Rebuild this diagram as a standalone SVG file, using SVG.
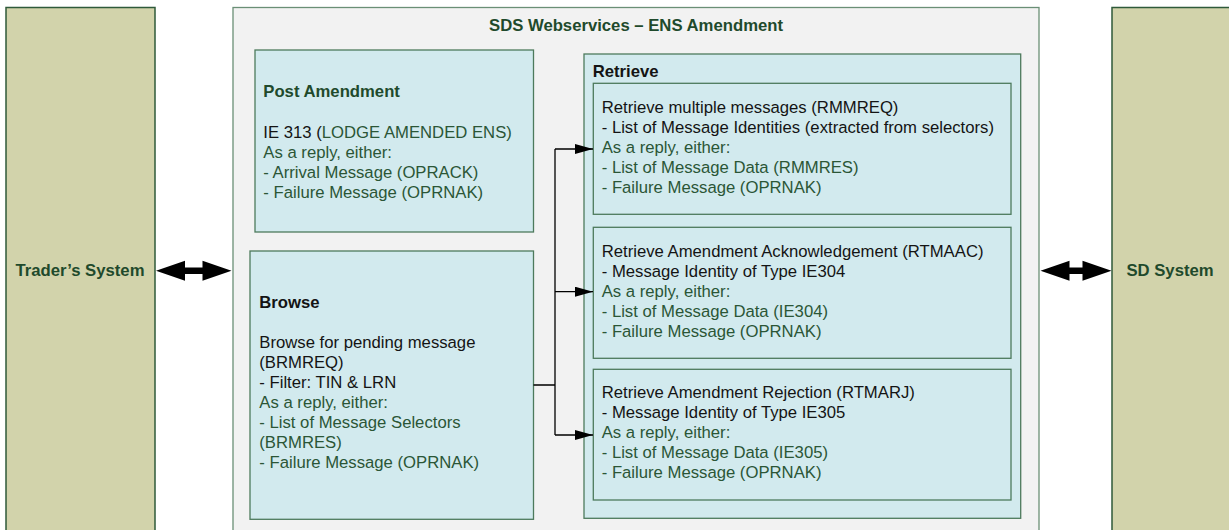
<svg xmlns="http://www.w3.org/2000/svg" width="1229" height="530" viewBox="0 0 1229 530">
<style>
  text { font-family: "Liberation Sans", Arial, sans-serif; font-size: 16.7px; }
  .b { font-weight: bold; }
  .k { fill: #141414; }
  .g { fill: #2b5636; }
  .dg { fill: #1f4a2c; }
  .sys { fill: #d2d3ab; stroke: #2f5a3a; stroke-width: 1.5; }
  .cont { fill: #f2f2f2; stroke: #6a8f76; stroke-width: 1.3; }
  .box { fill: #d2eaee; stroke: #4d7a5c; stroke-width: 1.3; }
  .conn { fill: none; stroke: #000; stroke-width: 1.3; }
  .big { fill: #000; }
</style>
<defs>
  <marker id="ah" markerUnits="userSpaceOnUse" markerWidth="18" markerHeight="10" refX="18" refY="5" orient="auto">
    <path d="M0,0 L18,5 L0,10 z" fill="#000"/>
  </marker>
</defs>
<rect width="1229" height="530" fill="#fff"/>

<g id="traders-system">
  <rect class="sys" x="6" y="7.5" width="149" height="530"/>
  <text class="b dg" x="80" y="275.5" text-anchor="middle">Trader’s System</text>
</g>

<g id="sd-system">
  <rect class="sys" x="1112" y="7.5" width="130" height="530"/>
  <text class="b dg" x="1170" y="275.5" text-anchor="middle">SD System</text>
</g>

<g id="sds-webservices">
  <rect class="cont" x="233" y="7.5" width="806" height="530"/>
  <text class="b dg" x="636" y="30.5" text-anchor="middle">SDS Webservices – ENS Amendment</text>
</g>

<g id="post-amendment">
  <rect class="box" x="255" y="50" width="278.5" height="182"/>
  <text class="b dg" x="263.3" y="97">Post Amendment</text>
  <text x="263.3" y="137.5"><tspan class="k">IE 313 (</tspan><tspan class="g">LODGE AMENDED ENS)</tspan></text>
  <text class="g" x="263.3" y="157.5">As a reply, either:</text>
  <text class="g" x="263.3" y="177.5">- Arrival Message (OPRACK)</text>
  <text class="g" x="263.3" y="197.5">- Failure Message (OPRNAK)</text>
</g>

<g id="browse">
  <rect class="box" x="250" y="251" width="283.5" height="268.3"/>
  <text class="b k" x="259.3" y="308.3">Browse</text>
  <text class="k" x="259.3" y="348.3">Browse for pending message</text>
  <text class="k" x="259.3" y="368.3">(BRMREQ)</text>
  <text class="k" x="259.3" y="388.3">- Filter: TIN &amp; LRN</text>
  <text class="g" x="259.3" y="408.3">As a reply, either:</text>
  <text class="g" x="259.3" y="428.3">- List of Message Selectors</text>
  <text class="g" x="259.3" y="448.3">(BRMRES)</text>
  <text class="g" x="259.3" y="468.3">- Failure Message (OPRNAK)</text>
</g>

<g id="retrieve">
  <rect class="box" x="584" y="54" width="436.7" height="464.3"/>
  <text class="b k" x="592.7" y="76.7">Retrieve</text>
</g>

<g id="rmmreq">
  <rect class="box" x="593.3" y="83.3" width="417.7" height="131"/>
  <text class="k" x="601.7" y="113.3">Retrieve multiple messages (RMMREQ)</text>
  <text class="k" x="601.7" y="133.3">- List of Message Identities (extracted from selectors)</text>
  <text class="g" x="601.7" y="153.3">As a reply, either:</text>
  <text class="g" x="601.7" y="173.3">- List of Message Data (RMMRES)</text>
  <text class="g" x="601.7" y="193.3">- Failure Message (OPRNAK)</text>
</g>

<g id="rtmaac">
  <rect class="box" x="593.3" y="227.3" width="417.7" height="131"/>
  <text class="k" x="601.7" y="256.7">Retrieve Amendment Acknowledgement (RTMAAC)</text>
  <text class="k" x="601.7" y="276.7">- Message Identity of Type IE304</text>
  <text class="g" x="601.7" y="296.7">As a reply, either:</text>
  <text class="g" x="601.7" y="316.7">- List of Message Data (IE304)</text>
  <text class="g" x="601.7" y="336.7">- Failure Message (OPRNAK)</text>
</g>

<g id="rtmarj">
  <rect class="box" x="593.3" y="369.3" width="417.7" height="130.7"/>
  <text class="k" x="601.7" y="398.3">Retrieve Amendment Rejection (RTMARJ)</text>
  <text class="k" x="601.7" y="418.3">- Message Identity of Type IE305</text>
  <text class="g" x="601.7" y="438.3">As a reply, either:</text>
  <text class="g" x="601.7" y="458.3">- List of Message Data (IE305)</text>
  <text class="g" x="601.7" y="478.3">- Failure Message (OPRNAK)</text>
</g>

<g id="connectors">
  <path class="conn" d="M533.5,385 H555 M555,149 V435"/>
  <path class="conn" d="M555,149 H593" marker-end="url(#ah)"/>
  <path class="conn" d="M555,291.7 H593" marker-end="url(#ah)"/>
  <path class="conn" d="M555,435 H593" marker-end="url(#ah)"/>
  <polygon class="big" points="156,270.7 185,260.7 185,267.4 202.5,267.4 202.5,260.7 231.5,270.7 202.5,280.7 202.5,274 185,274 185,280.7"/>
  <polygon class="big" points="1040.5,270.7 1069.5,260.7 1069.5,267.4 1082.5,267.4 1082.5,260.7 1111.5,270.7 1082.5,280.7 1082.5,274 1069.5,274 1069.5,280.7"/>
</g>
</svg>
